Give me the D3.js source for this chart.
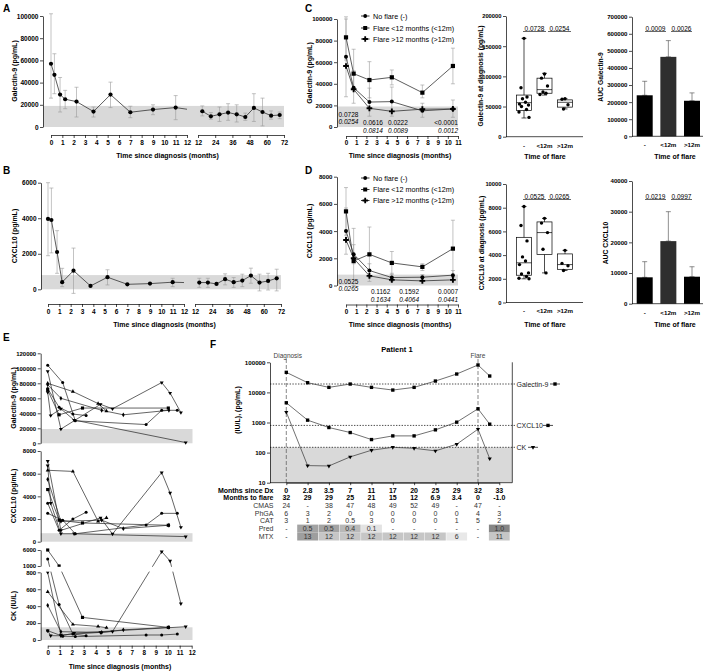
<!DOCTYPE html>
<html><head><meta charset="utf-8">
<script src="https://cdn.jsdelivr.net/npm/d3@7"></script>
<style>body{margin:0;background:#fff}</style>
</head><body><script>
// ================= DATA =================
// normal ranges (gray bands)
const galNormal = 19000, cxNormal = 800, ckNormal = 150;

// Panel A / B : time course, months
const tA1 = [0,0.3,0.8,1.25,2.25,3.75,5.25,7,9,11];
const tA2 = [15,21,27,33,39,45,51,57,63,69];
const galA1   = [57000,47000,29200,25000,22900,13900,29200,13300,15700,17500];
const galA1Lo = [26000,30000,13500,16500,9000,9000,17500,8400,11100,6600];
const galA1Hi = [102000,66000,44600,33000,35800,18000,40400,18700,20000,28300];
const galA1End = 16000;
const galA2   = [14200,9600,11400,13000,11400,9000,17200,13500,10200,10800];
const galA2Lo = [10000,7000,5000,6000,4500,6000,5000,1000,7000,7500];
const galA2Hi = [19000,13000,18000,21000,20000,12500,30000,26000,14500,13500];
const cxB1   = [3960,3900,2100,400,1050,190,680,280,320,400];
const cxB1Lo = [1890,2050,900,150,-230,190,245,280,320,150];
const cxB1Hi = [6000,5700,3300,1180,2320,190,1100,280,320,620];
const cxB1End = 380;
const cxB2   = [380,380,300,570,400,490,770,380,470,620];
const cxB2Lo = [110,110,300,250,110,150,340,-90,-40,-90];
const cxB2Hi = [620,620,300,870,660,850,1190,850,900,1130];
const ticksSeg1 = [0,1,2,3,4,5,6,7,8,9,10,11,12];
const ticksSeg2 = [12,24,36,48,60,72];

// Panel C / D : by flare group
const seriesNames = ["No flare (-)","Flare <12 months (<12m)","Flare >12 months (>12m)"];
const monthsCD = [0,0.75,2.3,4.5,7.5,10.5];
const ticksCD = [0,1,2,3,4,5,6,7,8,9,10,11];
const galNo = [65000,36400,23100,23500,15000,16700];
const galLt = [83000,49400,43500,46000,31800,56500];
const galGt = [56500,34900,17300,14500,16500,16700];
const galLtLo = [62000,36000,27000,39000,27000,40000];
const galLtHi = [100000,72000,60500,52800,38900,73000];
const galNoLo = [28000,22000,10000,10000,9000,9000];
const galNoHi = [102000,52000,36000,37000,22000,25000];
const cxNo = [4000,2300,1100,585,610,760];
const cxLt = [5450,1800,2290,1660,1370,2710];
const cxGt = [3350,2000,710,415,340,415];
const cxLtLo = [3700,0,300,800,1100,600];
const cxLtHi = [7200,4200,4300,2500,1600,4800];
const cxNoLo = [2300,1600,600,300,400,400];
const cxNoHi = [5700,3000,1600,900,800,1100];
const pGalRow1 = ["0.0616","0.0222","<0.0001"], pGalRow2 = ["0.0814","0.0089","0.0012"];
const pCxRow1  = ["0.1162","0.1592","0.0007"], pCxRow2  = ["0.1634","0.4064","0.0441"];
const pGalFirst = ["0.0728","0.0254"], pCxFirst = ["0.0525","0.0265"];

// box plots at diagnosis
const groups = ["-","<12m",">12m"];
const galBoxPts = [[163000,81000,65700,63000,57000,54000,52500,50000,45000,41000,32000],
                   [104000,97000,84000,74000,72000,70000],
                   [63000,62000,53000,46000]];
const galBoxStats = [[31000,43600,56400,69000,163000],[69000,72000,78000,97000,105000],[46000,49000,57000,61000,63000]];
const cxBoxPts = [[8100,6500,5200,3850,3500,3200,2500,2400,2200,2050,2000],
                  [7100,6700,5900,4500,2500],
                  [4400,3300,3100,2700]];
const cxBoxStats = [[2000,2300,3350,5500,8100],[2500,4050,5900,6800,7100],[2700,2800,3200,4100,4400]];
const galBoxP = ["0.0728","0.0254"], cxBoxP = ["0.0525","0.0265"];

// AUC bars
const aucGal = [240000,465000,208000], aucGalHi = [322000,560000,254000];
const aucCx  = [8600,20400,8800],     aucCxHi  = [13700,30000,12050];
const aucGalP = ["0.0009","0.0026"], aucCxP = ["0.0219","0.0997"];

// Panel E : individual patients
const patients = [
 {sym:"tridown", t:[0,1.1,4.4,5.4,9.5,10.2,11.1], gal:[96000,19000,52000,46000,81000,67000,41000], cx:[7100,1000,2100,680,6100,4300,1270], ck:[800,60,90,100,5500,2560,430]},
 {sym:"circle",  t:[0,1.25,2.3,8.2,9.5,10.8], gal:[104000,81000,30000,25000,44000,44000], cx:[2500,1900,700,1480,2500,2500], ck:[110,45,40,59,59,70]},
 {sym:"triangle",t:[0,2.1,4.2,4.9], gal:[80000,69000,53000,43000], cx:[6300,6200,1800,2100], ck:[570,184,160,145]},
 {sym:"diamond", t:[0,1.1,4.5,6.3,10.1], gal:[78000,60000,44000,38000,44000], cx:[5500,1800,1900,1150,1450], ck:[410,98,90,120,150]},
 {sym:"circle",  t:[0,0.95,2.1,3.2], gal:[73000,48000,39000,37000], cx:[3400,1000,2000,2600], ck:[3200,420,70,50]},
 {sym:"square",  t:[0,0.95,2.9,10.05], gal:[71000,38000,47000,47000], cx:[4600,1900,1650,1450], ck:[6000,1000,267,149]},
 {sym:"tridown", t:[0,0.25,1.1,2.2,11.5], gal:[68000,37000,46000,31000,1000], cx:[6700,3400,700,700,450], ck:[110,51,50,80,157]}
];
const eGalTicks=[0,20000,40000,60000,80000,100000,120000];
const eCxTicks=[0,2000,4000,6000,8000];
const eCkLowTicks=[0,200,400,600,800], eCkHighTicks=[1000,6000];

// Panel F : patient 1
const fMonthsDx = ["0","2.8","3.5","7","11","17","20","25","29","32","33"];
const fPlotPos  = [0,1,2,3,4,5,6,7,8,9,9.55];
const fGal = [46400,21000,14700,18950,14700,11970,14700,23850,40800,81500,35000];
const fCx  = [4520,1197,681,464,271,359,359,570,1026,2856,880];
const fCk  = [2210,37,36,72,120,150,139,114,190,600,63];
const fToFlare = ["32","29","29","25","21","15","12","6.9","3.4","0","-1.0"];
const fCMAS = ["24","-","38","47","48","49","52","49","-","47","-"];
const fPhGA = ["6","3","2","0","0","0","0","0","0","4","3"];
const fCAT  = ["3","1","2","0.5","3","0","0","0","1","5","2"];
const fPred = ["-","0.5","0.5","0.4","0.1","-","-","-","-","-","1.0"];
const fMTX  = ["-","13","12","12","12","12","12","12","6","-","11"];
const fYTicks = [10,100,1000,10000,100000];

// ================= DRAWING =================
const FONT = '"Liberation Sans", Arial, sans-serif';
const GRAY = "#d9d9d9", LINE = "#333", ERR = "#9a9a9a";
const svg = d3.select("body").append("svg").attr("width",709).attr("height",672)
  .style("font-family",FONT);

function T(x,y,s,o={}){
  return svg.append("text").attr("x",x).attr("y",y).attr("dominant-baseline","central")
   .attr("font-size",o.size||6.5).attr("font-weight",o.bold?"bold":"normal")
   .attr("font-style",o.italic?"italic":"normal").attr("text-anchor",o.anchor||"start")
   .attr("fill",o.fill||"#000").text(s);
}
function VT(x,y,s,size=7){
  svg.append("text").attr("transform",`translate(${x},${y}) rotate(-90)`).attr("text-anchor","middle")
   .attr("dominant-baseline","central").attr("font-size",size).attr("font-weight","bold").text(s);
}
function styleAxis(g,fs=6.5){
  g.selectAll("text").attr("font-size",fs).attr("font-weight","bold").attr("font-family",FONT).attr("fill","#000");
  g.selectAll("line,path").attr("stroke","#000").attr("stroke-width",0.7);
  return g;
}
function yAxis(x,scale,ticks,fs=6.5,fmt){
  return styleAxis(svg.append("g").attr("transform",`translate(${x},0)`)
   .call(d3.axisLeft(scale).tickValues(ticks).tickFormat(fmt||d3.format("d")).tickSize(3).tickSizeOuter(0).tickPadding(1.5)),fs);
}
function xAxis(y,scale,ticks,fmt,pad=2,size=3,fs=6.5){
  return styleAxis(svg.append("g").attr("transform",`translate(0,${y})`)
   .call(d3.axisBottom(scale).tickValues(ticks).tickFormat(fmt||d3.format("d")).tickSize(size).tickSizeOuter(0).tickPadding(pad)),fs);
}
function band(x0,x1,y0,y1){ svg.append("rect").attr("x",x0).attr("y",Math.min(y0,y1)).attr("width",x1-x0).attr("height",Math.abs(y1-y0)).attr("fill",GRAY); }
function errBar(x,ylo,yhi,cap=2,color=ERR){
  const g=svg.append("g").attr("stroke",color).attr("stroke-width",0.6);
  g.append("line").attr("x1",x).attr("x2",x).attr("y1",ylo).attr("y2",yhi);
  g.append("line").attr("x1",x-cap).attr("x2",x+cap).attr("y1",ylo).attr("y2",ylo);
  g.append("line").attr("x1",x-cap).attr("x2",x+cap).attr("y1",yhi).attr("y2",yhi);
}
function path(pts,color=LINE,w=0.8){
  svg.append("path").attr("d",d3.line()(pts)).attr("fill","none").attr("stroke",color).attr("stroke-width",w);
}
function marker(type,x,y,s=1){
  const g=svg.append("g").attr("fill","#000");
  if(type==="circle") g.append("circle").attr("cx",x).attr("cy",y).attr("r",2*s);
  else if(type==="square") g.append("rect").attr("x",x-2.1*s).attr("y",y-2.1*s).attr("width",4.2*s).attr("height",4.2*s);
  else if(type==="cross") g.append("path").attr("transform",`translate(${x},${y})`).attr("d",d3.symbol(d3.symbolCross,18*s*s)());
  else if(type==="triangle") g.append("path").attr("transform",`translate(${x},${y})`).attr("d",d3.symbol(d3.symbolTriangle,12*s*s)());
  else if(type==="tridown") g.append("path").attr("transform",`translate(${x},${y}) rotate(180)`).attr("d",d3.symbol(d3.symbolTriangle,12*s*s)());
  else if(type==="diamond") g.append("path").attr("transform",`translate(${x},${y})`).attr("d",d3.symbol(d3.symbolDiamond,12*s*s)());
}

// ---------- Panel A & B ----------
function timeCourse(o){
  band(o.axX, o.x2.range()[1], o.y(o.normal), o.y(0));
  o.t1.forEach((t,i)=>{ if(o.hi1[i]>o.lo1[i]) errBar(o.x1(t),o.y(o.lo1[i]),o.y(o.hi1[i])); });
  o.t2.forEach((t,i)=>{ if(o.hi2[i]>o.lo2[i]) errBar(o.x2(t),o.y(o.lo2[i]),o.y(o.hi2[i])); });
  path(o.t1.map((t,i)=>[o.x1(t),o.y(o.v1[i])]).concat([[o.x1(12),o.y(o.end1)]]));
  path(o.t2.map((t,i)=>[o.x2(t),o.y(o.v2[i])]));
  o.t1.forEach((t,i)=>marker("circle",o.x1(t),o.y(o.v1[i]),1.05));
  o.t2.forEach((t,i)=>marker("circle",o.x2(t),o.y(o.v2[i]),1.05));
  yAxis(o.axX,o.y,o.yTicks,6.5);
  xAxis(o.axY,o.x1,ticksSeg1,null,o.pad);
  xAxis(o.axY,o.x2,ticksSeg2,null,o.pad);
  T((o.x1.range()[0]+o.x2.range()[1])/2, o.titleY, "Time since diagnosis (months)", {bold:true,size:7,anchor:"middle"});
}
T(3,8,"A",{bold:true,size:10});
timeCourse({axX:43, y:d3.scaleLinear([0,100000],[127,16]), x1:d3.scaleLinear([0,12],[51,187]), x2:d3.scaleLinear([12,72],[198,284]),
  normal:galNormal, t1:tA1, v1:galA1, lo1:galA1Lo, hi1:galA1Hi, end1:galA1End, t2:tA2, v2:galA2, lo2:galA2Lo, hi2:galA2Hi,
  yTicks:[0,20000,40000,60000,80000,100000], axY:135, pad:2, titleY:155});
VT(14,71,"Galectin-9 (pg/mL)");

T(3,170,"B",{bold:true,size:10});
timeCourse({axX:41, y:d3.scaleLinear([0,6000],[289.3,182.7]), x1:d3.scaleLinear([0,12],[48,184]), x2:d3.scaleLinear([12,72],[195,281]),
  normal:cxNormal, t1:tA1, v1:cxB1, lo1:cxB1Lo, hi1:cxB1Hi, end1:cxB1End, t2:tA2, v2:cxB2, lo2:cxB2Lo, hi2:cxB2Hi,
  yTicks:[0,2000,4000,6000], axY:304, pad:2.5, titleY:324});
VT(14,236,"CXCL10 (pg/mL)");

// ---------- Panel C & D line charts ----------
const xCD = d3.scaleLinear([0,11],[346,458]);
const syms = ["circle","square","cross"];
function groupChart(o){
  band(o.axX, xCD(11), o.y(o.normal), o.y(0));
  o.errs.forEach(e=>monthsCD.forEach((m,i)=>errBar(xCD(m),o.y(e.lo[i]),o.y(e.hi[i]))));
  o.series.forEach((s,k)=>{
    path(monthsCD.map((m,i)=>[xCD(m),o.y(s[i])]));
  });
  o.series.forEach((s,k)=>monthsCD.forEach((m,i)=>marker(syms[k],xCD(m),o.y(s[i]))));
  yAxis(o.axX,o.y,o.yTicks,6.1);
  xAxis(o.axY,xCD,ticksCD,null,o.pad,3,6.3);
  T(400,o.titleY,"Time since diagnosis (months)",{bold:true,size:7,anchor:"middle"});
  // legend
  seriesNames.forEach((n,k)=>{
    const ly=o.legY[k];
    path([[361,ly],[369.5,ly]],"#000",0.8);
    marker(syms[k],365.2,ly,0.95);
    T(373,ly,n,{size:7.2});
  });
  // p-values
  T(o.axX+1.5,o.pFirstY[0],o.pFirst[0]);
  T(o.axX+1.5,o.pFirstY[1],o.pFirst[1],{italic:true});
  o.pPos.forEach((m,i)=>{
    const anc = i===2?"end":"middle";
    T(xCD(m),o.pRowY[0],o.pRow1[i],{anchor:anc});
    T(xCD(m),o.pRowY[1],o.pRow2[i],{anchor:anc,italic:true});
  });
}
T(305,8,"C",{bold:true,size:10});
groupChart({axX:337, y:d3.scaleLinear([0,100000],[127,19]), normal:galNormal,
  series:[galNo,galLt,galGt], errs:[{lo:galNoLo,hi:galNoHi},{lo:galLtLo,hi:galLtHi}],
  yTicks:[0,20000,40000,60000,80000,100000], axY:136, pad:1.8, titleY:155, legY:[16,28,39],
  pFirst:pGalFirst, pFirstY:[114,121], pPos:[2.65,5.1,11], pRow1:pGalRow1, pRow2:pGalRow2, pRowY:[122.7,130]});
VT(309,73,"Galectin-9 (pg/mL)");

T(305,170,"D",{bold:true,size:10});
groupChart({axX:337, y:d3.scaleLinear([0,8000],[285.5,176.7]), normal:cxNormal,
  series:[cxNo,cxLt,cxGt], errs:[{lo:cxNoLo,hi:cxNoHi},{lo:cxLtLo,hi:cxLtHi}],
  yTicks:[0,2000,4000,6000,8000], axY:304.5, pad:2.5, titleY:324, legY:[178,189.5,200.5],
  pFirst:pCxFirst, pFirstY:[281.5,288], pPos:[3.4,6.2,11], pRow1:pCxRow1, pRow2:pCxRow2, pRowY:[291,299]});
VT(309,231,"CXCL10 (pg/mL)");

// ---------- Box plots ----------
const xBox = d3.scalePoint(groups,[524,565]);
function boxChart(o){
  const bw=15;
  o.stats.forEach((s,k)=>{
    const cx=xBox(groups[k]);
    const g=svg.append("g").attr("stroke","#000").attr("stroke-width",0.7).attr("fill","none");
    g.append("line").attr("x1",cx).attr("x2",cx).attr("y1",o.y(s[0])).attr("y2",o.y(s[1]));
    g.append("line").attr("x1",cx).attr("x2",cx).attr("y1",o.y(s[3])).attr("y2",o.y(s[4]));
    g.append("line").attr("x1",cx-2.5).attr("x2",cx+2.5).attr("y1",o.y(s[0])).attr("y2",o.y(s[0]));
    g.append("line").attr("x1",cx-2.5).attr("x2",cx+2.5).attr("y1",o.y(s[4])).attr("y2",o.y(s[4]));
    g.append("rect").attr("x",cx-bw/2).attr("y",o.y(s[3])).attr("width",bw).attr("height",o.y(s[1])-o.y(s[3]));
    g.append("line").attr("x1",cx-bw/2).attr("x2",cx+bw/2).attr("y1",o.y(s[2])).attr("y2",o.y(s[2]));
    o.pts[k].forEach((v,i)=>{
      const jit=[0,-3,3,-1.5,1.5,-4.5,4.5,-2.5,2.5,-5,5][i%11];
      marker("circle",cx+jit,o.y(v),0.85);
    });
  });
  yAxis(506,o.y,o.yTicks,5.8);
  path([[506,o.y(0)],[583,o.y(0)]],"#000",0.7);
  groups.forEach(gn=>T(xBox(gn),o.y(0)+8.3,gn,{bold:true,anchor:"middle",size:6.2}));
  T(545,o.titleY,"Time of flare",{bold:true,size:7,anchor:"middle"});
  // brackets
  const b=[[xBox("-")-1,xBox("<12m")+1.5],[xBox("<12m")+3.5,xBox(">12m")+6]];
  b.forEach((r,i)=>{ path([[r[0],o.brY],[r[1],o.brY]],"#000",0.6); T((r[0]+r[1])/2,o.brY-3.2,o.p[i],{anchor:"middle"}); });
}
boxChart({y:d3.scaleLinear([0,200000],[136.7,16]), stats:galBoxStats, pts:galBoxPts,
  yTicks:[0,50000,100000,150000,200000], titleY:156, brY:31.5, p:galBoxP});
VT(480,76,"Galectin-9 at diagnosis (pg/mL)",6.8);
boxChart({y:d3.scaleLinear([0,10000],[302.5,184]), stats:cxBoxStats, pts:cxBoxPts,
  yTicks:[0,2000,4000,6000,8000,10000], titleY:324.5, brY:199.5, p:cxBoxP});
VT(481,243,"CXCL10 at diagnosis (pg/mL)",6.8);

// ---------- AUC bars ----------
const xAuc = d3.scalePoint(groups,[644.7,692]);
const barCol = ["#000","#2e2e2e","#000"];
function aucChart(o){
  o.vals.forEach((v,k)=>{
    const cx=xAuc(groups[k]);
    errBar(cx,o.y(v),o.y(o.hi[k]),2.5,"#444");
    svg.append("rect").attr("x",cx-8).attr("y",o.y(v)).attr("width",16).attr("height",o.y(0)-o.y(v)).attr("fill",barCol[k]);
  });
  yAxis(632,o.y,o.yTicks,6.1);
  path([[632,o.y(0)],[703,o.y(0)]],"#000",0.7);
  groups.forEach(gn=>T(xAuc(gn),o.y(0)+8.3,gn,{bold:true,anchor:"middle",size:6.2}));
  T(675,o.titleY,"Time of flare",{bold:true,size:7,anchor:"middle"});
  const b=[[645,666],[671,692]];
  b.forEach((r,i)=>{ path([[r[0],o.brY],[r[1],o.brY]],"#000",0.6); T((r[0]+r[1])/2,o.brY-3.2,o.p[i],{anchor:"middle"}); });
}
aucChart({y:d3.scaleLinear([0,700000],[136.3,16.7]), vals:aucGal, hi:aucGalHi,
  yTicks:[0,100000,200000,300000,400000,500000,600000,700000], titleY:156, brY:31.5, p:aucGalP});
VT(600,77,"AUC Galectin-9",6.8);
aucChart({y:d3.scaleLinear([0,40000],[303.7,181]), vals:aucCx, hi:aucCxHi,
  yTicks:[0,10000,20000,30000,40000], titleY:324.5, brY:199.5, p:aucCxP});
VT(605,243,"AUC CXCL10",6.8);

// ---------- Panel E ----------
T(3,337,"E",{bold:true,size:10});
const xE = d3.scaleLinear([0,12],[47.7,191.7]);
const yEg = d3.scaleLinear([0,120000],[443.3,353.3]);
const yEc = d3.scaleLinear([0,8000],[541.7,451]);
const yEkLow = d3.scaleLinear([0,800],[640,572.3]);
const yEkHigh = d3.scaleLinear([1000,6000],[566,550]);
const yEkGap = d3.scaleLinear([800,1000],[572.3,566]);
const yEk = v => v<=800 ? yEkLow(v) : (v>=1000 ? yEkHigh(v) : yEkGap(v));
const eAxX = 40.7, eRight = 192.5;
band(eAxX, eRight, yEg(galNormal), yEg(0));
band(eAxX, eRight, yEc(750), yEc(0));
band(eAxX, eRight, yEk(ckNormal), yEk(0));
[["gal",yEg],["cx",yEc],["ck",yEk]].forEach(([key,ys])=>{
  patients.forEach(p=>path(p.t.map((t,i)=>[xE(t),ys(p[key][i])]),"#222",0.7));
  patients.forEach(p=>p.t.forEach((t,i)=>marker(p.sym,xE(t),ys(p[key][i]),0.75)));
});
// axis break for CK
svg.append("rect").attr("x",eAxX-4).attr("y",566.8).attr("width",eRight-eAxX+6).attr("height",4.8).attr("fill","#fff");
yAxis(eAxX,yEg,eGalTicks,6);
yAxis(eAxX,yEc,eCxTicks,6);
yAxis(eAxX,yEkLow,eCkLowTicks,6);
yAxis(eAxX,yEkHigh,eCkHighTicks,6);
xAxis(645.7,xE,ticksSeg1,null,2,3,6.3);
T(120,666,"Time since diagnosis (months)",{bold:true,size:7,anchor:"middle"});
VT(13,398,"Galectin-9 (pg/mL)");
VT(13,496,"CXCL10 (pg/mL)");
VT(13,606,"CK (IU/L)");

// ---------- Panel F ----------
T(210,344,"F",{bold:true,size:10});
T(397,349,"Patient 1",{bold:true,size:7.5,anchor:"middle"});
const xF = d3.scaleLinear([0,10],[286.3,499.3]);
const yF = d3.scaleLog([10,100000],[482.7,362.3]);
const fAx = 270, fRight = 512.3;
band(fAx, fRight, yF(ckNormal), yF(10));
[galNormal, cxNormal, ckNormal].forEach(v=>{
  svg.append("line").attr("x1",fAx).attr("x2",fRight+3).attr("y1",yF(v)).attr("y2",yF(v))
    .attr("stroke","#000").attr("stroke-width",0.7).attr("stroke-dasharray","1.4,1.4");
});
[0,9].forEach((i,k)=>{
  svg.append("line").attr("x1",xF(i)).attr("x2",xF(i)).attr("y1",359).attr("y2",yF(10))
   .attr("stroke","#555").attr("stroke-width",0.7).attr("stroke-dasharray","4,2");
  T(xF(i)+(k===0?1.5:0),355.5,k===0?"Diagnosis":"Flare",{anchor:"middle",fill:"#444",size:6.5});
});
svg.append("line").attr("x1",fRight).attr("x2",fRight).attr("y1",yF(100000)).attr("y2",yF(10)).attr("stroke","#000").attr("stroke-width",0.7);
const fSeries = [[fGal,"square"],[fCx,"square"],[fCk,"tridown"]];
fSeries.forEach(([vals,sym])=>{
  path(fPlotPos.map((p,i)=>[xF(p),yF(vals[i])]),"#333",0.7);
  fPlotPos.forEach((p,i)=>marker(sym,xF(p),yF(vals[i]),0.8));
});
yAxis(fAx,yF,fYTicks,6.2);
xAxis(yF(10),d3.scaleLinear([0,10],[286.3,499.3]),[0,1,2,3,4,5,6,7,8,9,10],()=>"",0,2.5);
path([[fAx,yF(10)],[fRight,yF(10)]],"#000",0.7);
VT(237,410,"(IU/L), (pg/mL)");
// right labels
[["Galectin-9",galNormal,"square",550,560],["CXCL10",cxNormal,"square",543,553],["CK",ckNormal,"tridown",528,538]].forEach(([lab,v,sym,l0,l1])=>{
  T(516.5,yF(v),lab,{size:7,fill:"#222"});
  path([[l0,yF(v)],[l1,yF(v)]],"#000",0.7);
  marker(sym,(l0+l1)/2,yF(v),0.8);
});
// table
const tableRows = [
  ["Months since Dx",fMonthsDx,true,490.7],
  ["Months to flare",fToFlare,true,497.5],
  ["CMAS",fCMAS,false,505.2],
  ["PhGA",fPhGA,false,513.1],
  ["CAT",fCAT,false,520.9],
  ["Pred",fPred,false,528.5],
  ["MTX",fMTX,false,536.5]
];
const predCol = d3.scaleLinear([0.1,0.4,0.5,1.0],["#e3e3e3","#b8b8b8","#a3a3a3","#868686"]);
const mtxCol  = d3.scaleLinear([6,11,12,13],["#e8e8e8","#c6c6c6","#c6c6c6","#9e9e9e"]);
fPred.forEach((v,i)=>{ if(v!=="-") svg.append("rect").attr("x",xF(i)-10.4).attr("y",524.6).attr("width",20.8).attr("height",7.9).attr("fill",predCol(+v)); });
fMTX.forEach((v,i)=>{ if(v!=="-") svg.append("rect").attr("x",xF(i)-10.4).attr("y",532.5).attr("width",20.8).attr("height",8).attr("fill",mtxCol(+v)); });
tableRows.forEach(([lab,vals,bold,y])=>{
  T(273.5,y,lab,{anchor:"end",bold:bold,size:7,fill:bold?"#000":"#333"});
  vals.forEach((v,i)=>T(xF(i),y,v,{anchor:"middle",bold:bold,size:7,fill:bold?"#000":"#333"}));
});
</script></body></html>
